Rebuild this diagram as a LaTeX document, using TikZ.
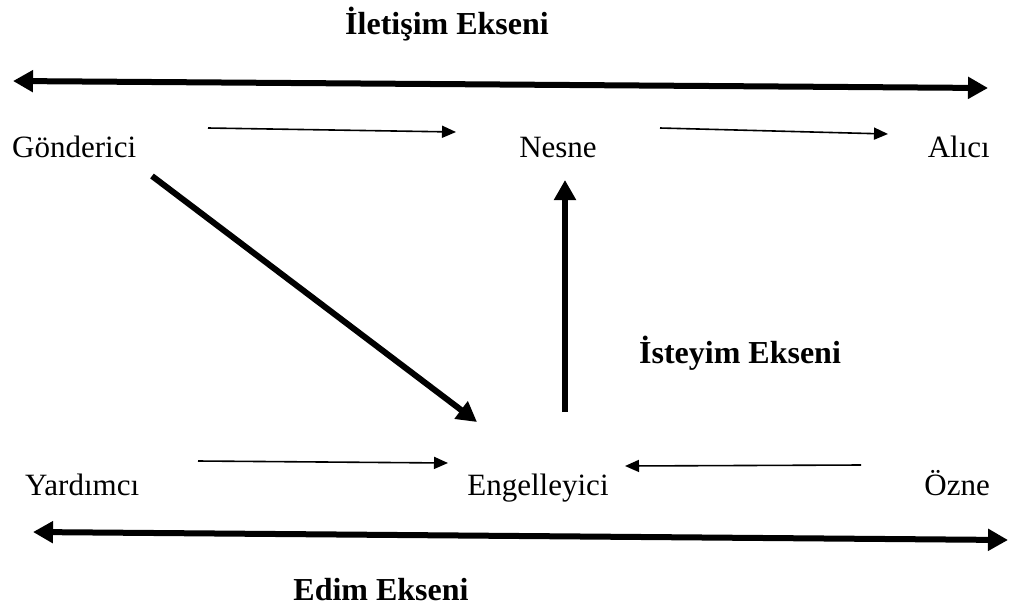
\documentclass[tikz,border=0pt]{standalone}
\usepackage{fontspec}
\setmainfont{Liberation Serif}
\usetikzlibrary{arrows.meta}
\begin{document}
\begin{tikzpicture}[x=1pt,y=-1pt,
  lbl/.style={anchor=base,inner sep=0pt,font=\fontsize{31}{36}\selectfont},
  ttl/.style={anchor=base,inner sep=0pt,font=\fontsize{32}{38}\selectfont\bfseries},
  axis/.style={line width=6pt,{Triangle[length=20pt,width=21pt]}-{Triangle[length=20pt,width=21pt]}},
  bigarrow/.style={line width=6pt,-{Triangle[length=20pt,width=21pt]}},
  thinarrow/.style={line width=1.6pt,-{Triangle[length=14pt,width=12pt]}}]
\useasboundingbox (0,0) rectangle (1014,611);
% labels
\node[ttl] (t1) at (447,34) {İletişim Ekseni};
\node[ttl] (t2) at (740,363) {İsteyim Ekseni};
\node[ttl] (t3) at (381,600) {Edim Ekseni};
\node[lbl,anchor=base west] (g) at (12,157) {Gönderici};
\node[lbl] (n) at (558,157) {Nesne};
\node[lbl,anchor=base east] (a) at (990,157) {Alıcı};
\node[lbl,anchor=base west] (y) at (25,495) {Yardımcı};
\node[lbl] (e) at (538,495) {Engelleyici};
\node[lbl,anchor=base east] (o) at (990,495) {Özne};
% connector ends
\coordinate (ta) at (13,81);
\coordinate (tb) at (988,88);
\coordinate (ba) at (33,532);
\coordinate (bb) at (1008,540);
\coordinate (gn1) at (208,128);
\coordinate (gn2) at (456,132);
\coordinate (na1) at (660,128);
\coordinate (na2) at (888,134);
\coordinate (ye1) at (198,461);
\coordinate (ye2) at (448,463);
\coordinate (oe1) at (861,465);
\coordinate (oe2) at (625,466);
\coordinate (ge1) at (152,176);
\coordinate (ge2) at (477,422);
\coordinate (en1) at (565,412);
\coordinate (en2) at (565,180);
% axes
\draw[axis] (ta) -- (tb);
\draw[axis] (ba) -- (bb);
% arrows
\draw[thinarrow] (gn1) -- (gn2);
\draw[thinarrow] (na1) -- (na2);
\draw[thinarrow] (ye1) -- (ye2);
\draw[thinarrow] (oe1) -- (oe2);
\draw[bigarrow] (ge1) -- (ge2);
\draw[bigarrow] (en1) -- (en2);
\end{tikzpicture}
\end{document}
